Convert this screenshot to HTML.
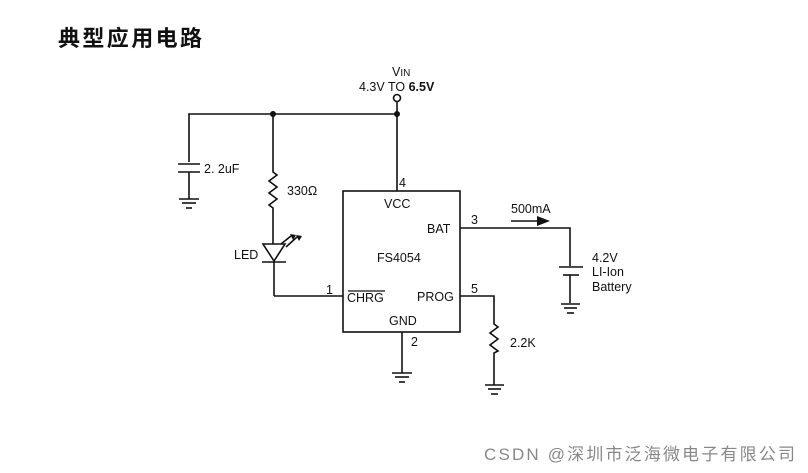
<!DOCTYPE html>
<html><head><meta charset="utf-8"><style>
html,body{margin:0;padding:0;background:#fff;}
svg{display:block}
text{font-family:"Liberation Sans","Noto Sans CJK SC",sans-serif;fill:#111;}
</style></head><body>
<svg width="808" height="473" viewBox="0 0 808 473" xmlns="http://www.w3.org/2000/svg">
<text x="58" y="46" font-size="22" font-weight="bold" textLength="144" style="font-family:'Noto Sans CJK SC',sans-serif">典型应用电路</text>
<g stroke="#111" stroke-width="1.6" fill="none">
<polyline points="189,162 189,114 397,114 397,191"/>
<line x1="397" y1="114" x2="397" y2="102"/>
<circle cx="397" cy="98" r="3.5" fill="#fff"/>
<line x1="178" y1="164" x2="200" y2="164"/>
<line x1="178" y1="172" x2="200" y2="172"/>
<line x1="189" y1="172" x2="189" y2="199"/>
<line x1="179" y1="199" x2="199" y2="199"/>
<line x1="182" y1="203" x2="196" y2="203"/>
<line x1="186" y1="208" x2="192" y2="208"/>
<polyline points="273,114 273,172 277,175 269,181 277,187 269,193 277,199 269,205 273,208 273,244"/>
<polygon points="263,244 285,244 274,261"/>
<line x1="262" y1="262" x2="286" y2="262"/>
<line x1="274" y1="262" x2="274" y2="296"/>
<line x1="274" y1="296" x2="343" y2="296"/>
<line x1="281" y1="244" x2="291" y2="236"/>
<line x1="286" y1="247" x2="297" y2="237"/>
<rect x="343" y="191" width="117" height="141"/>
<polyline points="460,228 570,228 570,266"/>
<line x1="559" y1="267" x2="583" y2="267"/>
<line x1="563" y1="275" x2="579" y2="275"/>
<line x1="570" y1="275" x2="570" y2="303"/>
<line x1="561" y1="304" x2="580" y2="304"/>
<line x1="564" y1="308" x2="577" y2="308"/>
<line x1="567" y1="313" x2="574" y2="313"/>
<line x1="511" y1="221" x2="538" y2="221"/>
<polyline points="460,296 494,296 494,324 498,327 490,333 498,339 490,345 498,351 494,353 494,385"/>
<line x1="485" y1="385" x2="504" y2="385"/>
<line x1="488" y1="389" x2="501" y2="389"/>
<line x1="491" y1="394" x2="498" y2="394"/>
<line x1="402" y1="332" x2="402" y2="373"/>
<line x1="392" y1="373" x2="412" y2="373"/>
<line x1="395" y1="377" x2="409" y2="377"/>
<line x1="399" y1="382" x2="405" y2="382"/>
<line x1="348" y1="291" x2="385" y2="291" stroke-width="1.2"/>
</g>
<polygon points="537,216 550,221 537,226" fill="#111"/>
<polygon points="290,234 296,235 293,240" fill="#111"/>
<polygon points="296,235 302,236 299,241" fill="#111"/>
<circle cx="273" cy="114" r="3" fill="#111"/>
<circle cx="397" cy="114" r="3" fill="#111"/>
<g font-size="12.5">
<text x="392" y="76">V<tspan font-size="10">IN</tspan></text>
<text x="359" y="91">4.3V TO <tspan font-weight="bold">6.5V</tspan></text>
<text x="204" y="173">2. 2uF</text>
<text x="287" y="195">330Ω</text>
<text x="234" y="259">LED</text>
<text x="399" y="187">4</text>
<text x="384" y="208">VCC</text>
<text x="427" y="233">BAT</text>
<text x="377" y="262" fill="#333">FS4054</text>
<text x="326" y="294">1</text>
<text x="347" y="302">CHRG</text>
<text x="417" y="301">PROG</text>
<text x="389" y="325">GND</text>
<text x="411" y="346">2</text>
<text x="471" y="224">3</text>
<text x="511" y="213">500mA</text>
<text x="471" y="293">5</text>
<text x="510" y="347">2.2K</text>
<text x="592" y="262">4.2V</text>
<text x="592" y="276">LI-Ion</text>
<text x="592" y="291">Battery</text>
</g>
<text x="484" y="460" font-size="17" textLength="311" style="fill:#888;font-family:'Liberation Sans','Noto Sans CJK SC',sans-serif">CSDN @深圳市泛海微电子有限公司</text>
</svg>
</body></html>
